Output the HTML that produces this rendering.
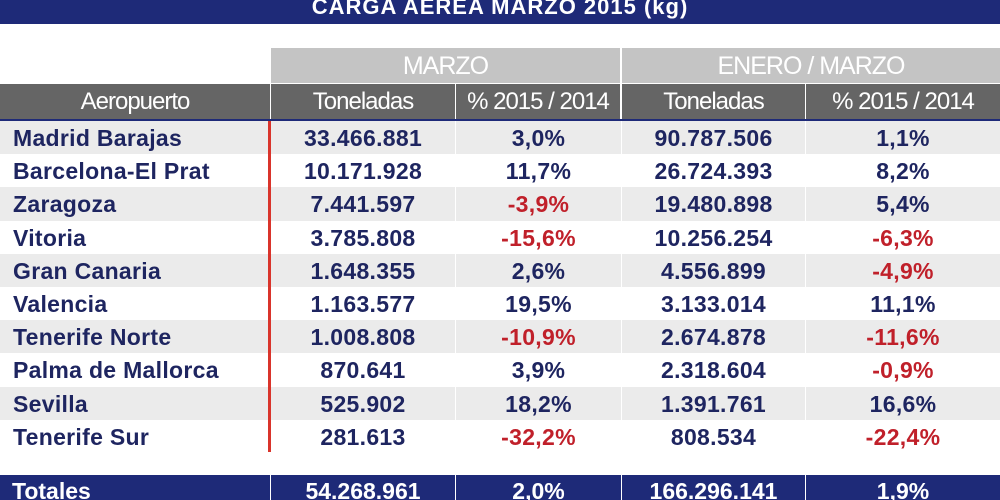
<!DOCTYPE html>
<html><head><meta charset="utf-8"><style>
body{margin:0;width:1000px;height:500px;overflow:hidden;background:#fff;font-family:"Liberation Sans",sans-serif;position:relative}
div{position:absolute;box-sizing:border-box}
.title{left:0;top:0;width:1000px;height:24px;background:#1e2a78;color:#fff;font-weight:bold;font-size:22px;text-align:center;line-height:14px;overflow:hidden;letter-spacing:1px}
.grp{top:48px;height:35px;background:#c4c4c4;color:#fff;font-size:25px;line-height:36px;text-align:center;letter-spacing:-1px}
.hdr{top:84px;height:35px;background:#656565;color:#fff;font-size:24px;line-height:36px;text-align:center;letter-spacing:-1px}
.row{left:0;width:1000px;height:33.3px}
.cell{top:0;height:100%;font-size:23px;line-height:34px;color:#1e2560;text-align:center;font-weight:bold;letter-spacing:0.3px}
.neg{color:#c0202a}
.tot{top:475px;height:25px;background:#1e2a78}
.tc{color:#fff;font-size:23px;font-weight:bold;line-height:32px;text-align:center;top:0;height:25px;overflow:hidden}
</style></head><body>
<div class="title">CARGA AEREA MARZO 2015 (kg)</div>
<div class="grp" style="left:271px;width:349px">MARZO</div>
<div class="grp" style="left:622px;width:378px">ENERO / MARZO</div>
<div class="hdr" style="left:0;width:270px">Aeropuerto</div>
<div class="hdr" style="left:271px;width:184px">Toneladas</div>
<div class="hdr" style="left:456px;width:164px">% 2015 / 2014</div>
<div class="hdr" style="left:622px;width:183px">Toneladas</div>
<div class="hdr" style="left:806px;width:194px">% 2015 / 2014</div>
<div style="left:0;top:119px;width:1000px;height:2px;background:#1e2a78"></div>
<div id="rows"></div>
<div style="left:268px;top:121px;width:3px;height:331px;background:#d9342b"></div>
<div class="tot" style="left:0;width:270px"><div class="tc" style="left:12px;text-align:left;width:250px">Totales</div></div>
<div class="tot" style="left:271px;width:184px"><div class="tc" style="left:0;width:184px">54.268.961</div></div>
<div class="tot" style="left:456px;width:165px"><div class="tc" style="left:0;width:165px">2,0%</div></div>
<div class="tot" style="left:622px;width:183px"><div class="tc" style="left:0;width:183px">166.296.141</div></div>
<div class="tot" style="left:806px;width:194px"><div class="tc" style="left:0;width:194px">1,9%</div></div>
<script>
const airports=["Madrid Barajas","Barcelona-El Prat","Zaragoza","Vitoria","Gran Canaria","Valencia","Tenerife Norte","Palma de Mallorca","Sevilla","Tenerife Sur"];
const tonMar=["33.466.881","10.171.928","7.441.597","3.785.808","1.648.355","1.163.577","1.008.808","870.641","525.902","281.613"];
const pctMar=["3,0%","11,7%","-3,9%","-15,6%","2,6%","19,5%","-10,9%","3,9%","18,2%","-32,2%"];
const tonAcc=["90.787.506","26.724.393","19.480.898","10.256.254","4.556.899","3.133.014","2.674.878","2.318.604","1.391.761","808.534"];
const pctAcc=["1,1%","8,2%","5,4%","-6,3%","-4,9%","11,1%","-11,6%","-0,9%","16,6%","-22,4%"];
const cols=[[0,270],[271,184],[456,165],[622,183],[806,194]];
const host=document.getElementById('rows');
airports.forEach((a,i)=>{
  const r=document.createElement('div');
  r.className='row';
  r.style.top=(121+i*33.2)+'px';
  
  
  const vals=[a,tonMar[i],pctMar[i],tonAcc[i],pctAcc[i]];
  vals.forEach((v,j)=>{
    const c=document.createElement('div');
    c.className='cell'+(v[0]==='-'?' neg':'');
    c.style.left=cols[j][0]+'px';c.style.width=cols[j][1]+'px';
    if(i%2===0)c.style.background='#ebebeb';
    if(j===0){c.style.textAlign='left';c.style.paddingLeft='13px';}
    c.textContent=v;
    
    
    r.appendChild(c);
  });
  host.appendChild(r);
});
</script>
</body></html>
